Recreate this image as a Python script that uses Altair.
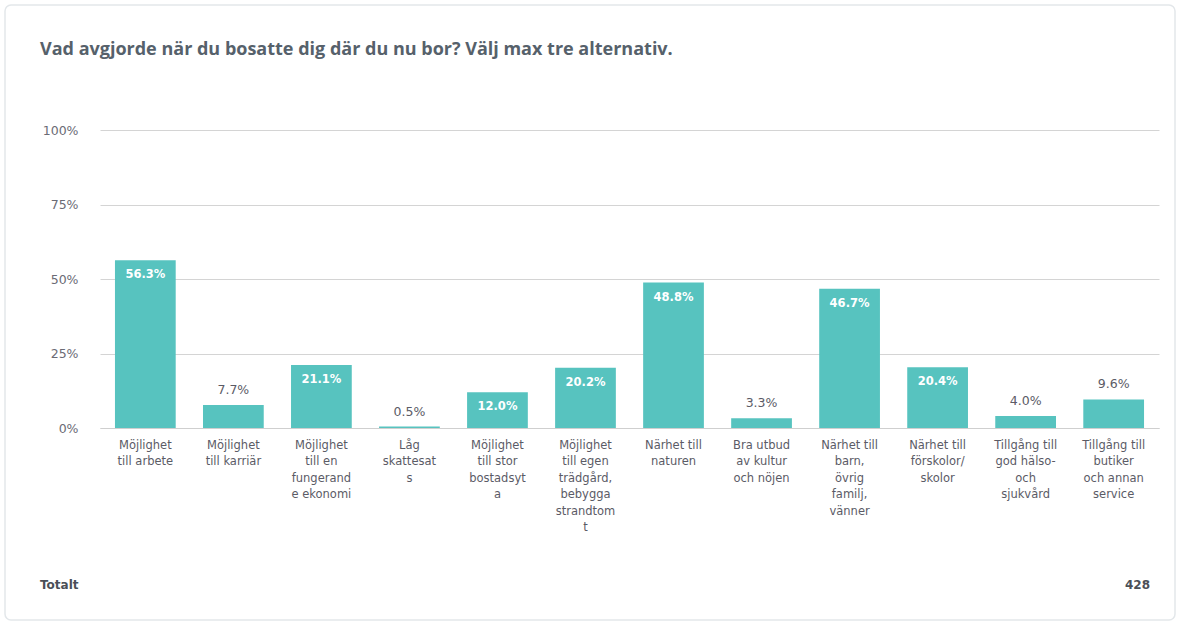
import altair as alt
import pandas as pd

categories = [
    "Möjlighet|till arbete",
    "Möjlighet|till karriär",
    "Möjlighet|till en|fungerand|e ekonomi",
    "Låg|skattesat|s",
    "Möjlighet|till stor|bostadsyt|a",
    "Möjlighet|till egen|trädgård,|bebygga|strandtom|t",
    "Närhet till|naturen",
    "Bra utbud|av kultur|och nöjen",
    "Närhet till|barn,|övrig|familj,|vänner",
    "Närhet till|förskolor/|skolor",
    "Tillgång till|god hälso-|och|sjukvård",
    "Tillgång till|butiker|och annan|service",
]
values = [56.3, 7.7, 21.1, 0.5, 12.0, 20.2, 48.8, 3.3, 46.7, 20.4, 4.0, 9.6]
title_text = "Vad avgjorde när du bosatte dig där du nu bor? Välj max tre alternativ."
footer_left = "Totalt"
footer_right = "428"

df = pd.DataFrame({"cat": categories, "val": values})
df["lbl"] = [f"{v:.1f}%" for v in values]

W, H = 1059, 298
BAR = "#57c3bf"

card = alt.Chart(pd.DataFrame({"a": [0]})).mark_rect(
    fill=None, fillOpacity=0, stroke="#e3e7ea", strokeWidth=1.5, cornerRadius=6
).encode(
    x=alt.value(-95), x2=alt.value(1075), y=alt.value(-125), y2=alt.value(490)
)

xenc = alt.X(
    "cat:N", sort=categories, title=None,
    scale=alt.Scale(paddingInner=0.31, paddingOuter=0.17),
    axis=alt.Axis(
        labelExpr="split(datum.value, '|')", labelAngle=0, labelFont="DejaVu Sans",
        labelFontSize=11.5, labelColor="#5b5b66", labelLineHeight=16.5, labelPadding=11,
        ticks=False, domain=True, domainColor="#cfcfcf", labelLimit=200,
        labelBaseline="top", grid=False,
    ),
)
yenc = alt.Y(
    "val:Q", title=None,
    scale=alt.Scale(domain=[0, 100]),
    axis=alt.Axis(
        values=[0, 25, 50, 75, 100], labelExpr="datum.value + '%'",
        labelFont="DejaVu Sans", labelFontSize=12.5, labelColor="#6b6b75",
        ticks=False, domain=False, gridColor="#d4d4d4", gridWidth=1,
        labelPadding=22,
    ),
)

bars = alt.Chart(df).mark_bar(color=BAR).encode(x=xenc, y=yenc)

inside = alt.Chart(df).transform_filter("datum.val >= 10").mark_text(
    baseline="top", dy=9, color="white", font="DejaVu Sans", fontSize=11.5,
    fontWeight="bold",
).encode(x=alt.X("cat:N", sort=categories), y="val:Q", text="lbl:N")

above = alt.Chart(df).transform_filter("datum.val < 10").mark_text(
    baseline="bottom", dy=-8, color="#5b5b66", font="DejaVu Sans", fontSize=12.5,
).encode(x=alt.X("cat:N", sort=categories), y="val:Q", text="lbl:N")

ttl = alt.Chart(pd.DataFrame({"t": [title_text]})).mark_text(
    align="left", baseline="alphabetic", font="Open Sans", fontSize=18,
    fontWeight="bold", color="#56616b",
).encode(x=alt.value(-60), y=alt.value(-75), text="t:N")

foot = pd.DataFrame({"t": [footer_left]})
foot_l = alt.Chart(foot).mark_text(
    align="left", baseline="middle", font="DejaVu Sans", fontSize=12,
    fontWeight="bold", color="#4a4f57",
).encode(x=alt.value(-60), y=alt.value(455), text="t:N")
foot2 = pd.DataFrame({"t": [footer_right]})
foot_r = alt.Chart(foot2).mark_text(
    align="right", baseline="middle", font="DejaVu Sans", fontSize=12,
    fontWeight="bold", color="#4a4f57",
).encode(x=alt.value(1050), y=alt.value(455), text="t:N")

chart = alt.layer(bars, inside, above, ttl, foot_l, foot_r, card).properties(
    width=W, height=H,
    autosize=alt.AutoSizeParams(type="none"),
    padding={"left": 100, "top": 130, "right": 20, "bottom": 197},
    background="white",
).configure_view(strokeWidth=0, stroke=None)

chart.save("out.html", embed_options={"renderer": "svg", "actions": False})
